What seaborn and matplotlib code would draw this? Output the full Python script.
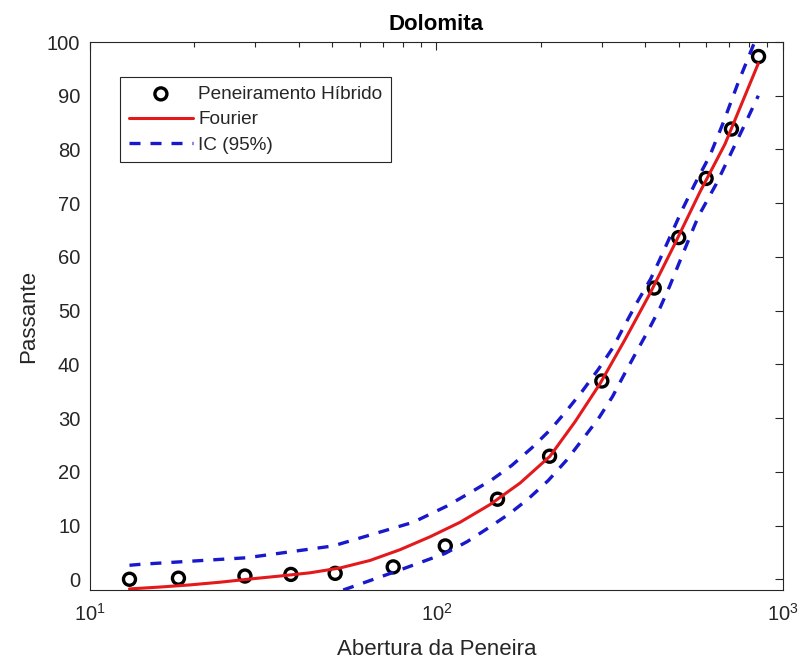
import numpy as np
import pandas as pd
import matplotlib
matplotlib.use("Agg")
import matplotlib.pyplot as plt
import seaborn as sns
from matplotlib.ticker import LogLocator, NullFormatter, FixedLocator, FixedFormatter

# Sieve analysis data (opening vs. cumulative passing)
abertura = [13, 18, 28, 38, 51, 75, 106, 150, 212, 300, 425, 500, 600, 710, 850]
passante = [0.0, 0.2, 0.6, 0.9, 1.1, 2.3, 6.2, 14.9, 22.9, 36.9, 54.2, 63.6, 74.6, 83.8, 97.3]

# Fourier fit curve
fourier_x = [13.0, 15.92, 19.44, 23.73, 28.96, 35.35, 43.14, 52.66, 64.29, 78.46,
             95.76, 116.9, 142.7, 174.2, 212.6, 251.0, 296.4, 349.9, 413.2, 487.9,
             576.0, 680.1, 848.6]
fourier_y = [-1.8, -1.45, -1.05, -0.55, 0.05, 0.6, 1.2, 2.1, 3.5, 5.5,
             7.9, 10.6, 13.9, 17.9, 22.9, 29.3, 36.4, 44.6, 53.2, 62.5,
             72.1, 81.0, 96.0]

# 95% confidence bounds
ic_sup_x = [13.0, 14.1, 28.3, 50.3, 85.6, 107, 124.9, 144.3, 165, 188.7, 213.6,
            237.6, 263.4, 293.3, 322.1, 346, 378.1, 415, 441.6, 477, 510.3,
            557, 615.6, 672.4, 743, 821, 848.6]
ic_sup_y = [2.6, 2.8, 4.0, 6.2, 10.6, 13.6, 16.1, 18.5, 21.2, 24.5, 27.9,
            31.4, 35.0, 39.1, 43.0, 46.8, 51.4, 55.9, 59.6, 64.4, 68.6,
            73.6, 78.9, 85.0, 92.5, 99.4, 101.6]

ic_inf_x = [53.8, 76.7, 105.8, 122.6, 141.5, 163.2, 184.3, 210.3, 237.6, 262.2,
            293.3, 322.1, 346, 372.4, 407.6, 441.6, 470.5, 501.7, 535, 570.4,
            642, 709, 775, 848.6]
ic_inf_y = [-2.0, 1.5, 4.8, 7.0, 9.6, 12.3, 15.0, 18.4, 22.2, 25.8,
            29.9, 34.0, 37.8, 41.6, 46.2, 50.5, 54.5, 58.9, 63.3, 67.6,
            73.6, 79.4, 84.6, 90.0]

sns.set_style("white")
plt.rcParams["font.family"] = ["Liberation Sans", "DejaVu Sans"]
plt.rcParams["mathtext.fontset"] = "custom"
plt.rcParams["mathtext.rm"] = "Liberation Sans"
plt.rcParams["mathtext.default"] = "regular"

text_gray = "#262626"
blue = "#1818cc"
red = "#e4191b"

fig = plt.figure(figsize=(8.03, 6.63), dpi=100)
ax = fig.add_axes([90 / 803, 1 - 590 / 663, 693 / 803, 548 / 663])

df_pts = pd.DataFrame({"abertura": abertura, "passante": passante})
sns.scatterplot(data=df_pts, x="abertura", y="passante", ax=ax, marker="o", s=75,
                facecolors="none", edgecolors="black", linewidths=2.4,
                label="Peneiramento Híbrido", zorder=3)

sns.lineplot(x=fourier_x, y=fourier_y, ax=ax, color=red, linewidth=2.2,
             estimator=None, sort=False, label="Fourier", zorder=4)

dash = (0, (3.3, 3.0))
sns.lineplot(x=ic_sup_x, y=ic_sup_y, ax=ax, color=blue, linewidth=2.4,
             linestyle=dash, estimator=None, sort=False, label="IC (95%)", zorder=5)
sns.lineplot(x=ic_inf_x, y=ic_inf_y, ax=ax, color=blue, linewidth=2.4,
             linestyle=dash, estimator=None, sort=False, label="_nolegend_", zorder=5)

ax.set_xscale("log")
ax.set_xlim(10, 1000)
ax.set_ylim(-2, 100)

ax.xaxis.set_major_locator(FixedLocator([10, 100, 1000]))
ax.xaxis.set_major_formatter(FixedFormatter([r"$10^{1}$", r"$10^{2}$", r"$10^{3}$"]))
ax.xaxis.set_minor_locator(LogLocator(base=10, subs=np.arange(2, 10)))
ax.xaxis.set_minor_formatter(NullFormatter())
ax.set_yticks(np.arange(0, 101, 10))

ax.tick_params(which="both", direction="in", top=True, right=True,
               colors=text_gray, labelcolor=text_gray, width=0.8)
ax.tick_params(which="major", length=6, labelsize=14.5)
ax.tick_params(axis="x", which="major", pad=9)
ax.tick_params(axis="y", which="major", pad=7)
ax.tick_params(which="minor", length=3.5)

for sp in ax.spines.values():
    sp.set_color(text_gray)
    sp.set_linewidth(0.8)

ax.set_title("Dolomita", fontsize=16, fontweight="bold", color="black", pad=9)
ax.set_xlabel("Abertura da Peneira", fontsize=16, color=text_gray)
ax.set_ylabel("Passante", fontsize=16, color=text_gray)
ax.xaxis.set_label_coords(0.5, -0.09)
ax.yaxis.set_label_coords(-0.073, 0.5)

handles, labels = ax.get_legend_handles_labels()
order = ["Peneiramento Híbrido", "Fourier", "IC (95%)"]
hmap = dict(zip(labels, handles))
leg = ax.legend([hmap[k] for k in order], order, loc="upper left",
                bbox_to_anchor=(30 / 693, (590 - 77) / 548), borderaxespad=0,
                fontsize=13.7, frameon=True, fancybox=False, framealpha=1,
                edgecolor="#262626", handlelength=3.4, handletextpad=0.25,
                borderpad=0.45, labelspacing=0.42)
leg.get_frame().set_linewidth(0.8)
for t in leg.get_texts():
    t.set_color(text_gray)

fig.savefig("out.png", dpi=100)
